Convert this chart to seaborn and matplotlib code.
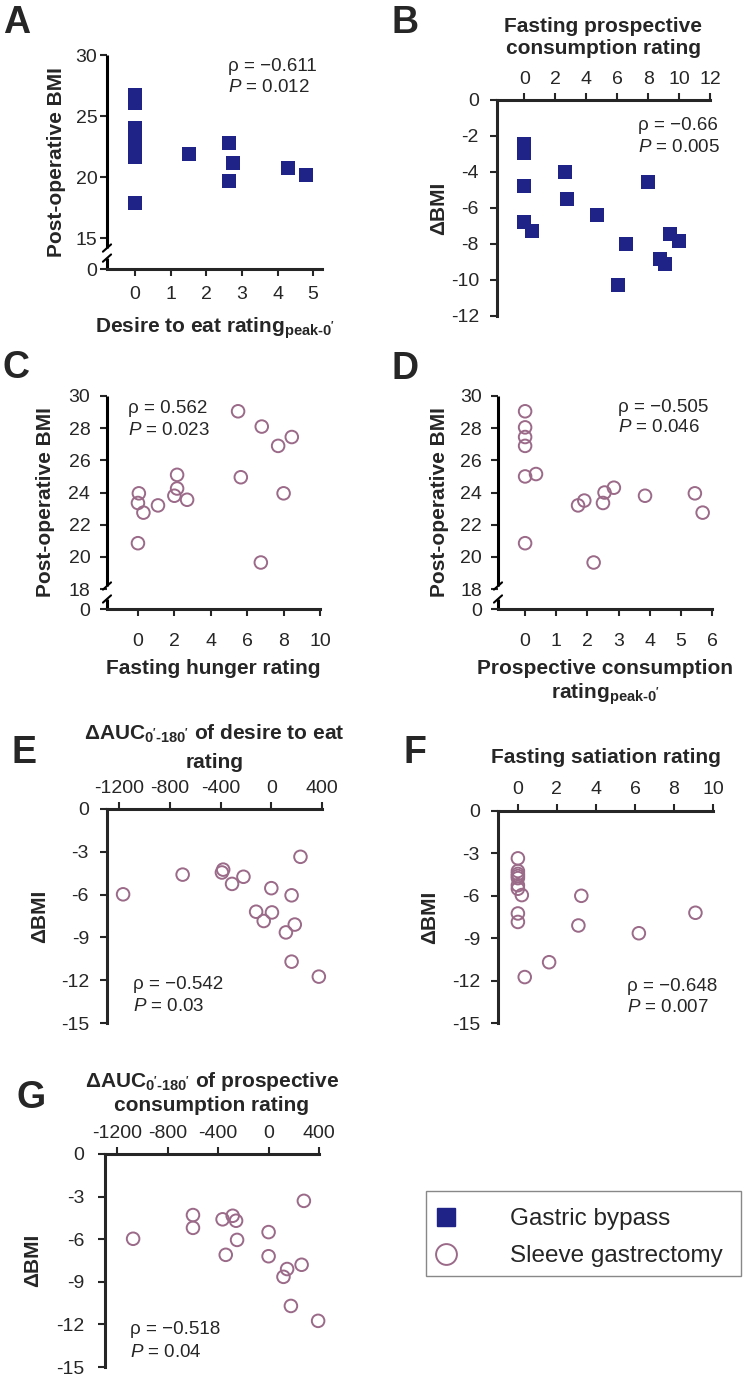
import numpy as np
import matplotlib
matplotlib.use("Agg")
import matplotlib.pyplot as plt
from matplotlib.lines import Line2D
from matplotlib.patches import Rectangle
import seaborn as sns

sns.set_style("ticks")
plt.rcParams['font.family'] = ['Liberation Sans', 'DejaVu Sans']
plt.rcParams['mathtext.fontset'] = 'custom'
plt.rcParams['mathtext.rm'] = 'Liberation Sans:bold'
plt.rcParams['mathtext.it'] = 'Liberation Sans:italic'
plt.rcParams['mathtext.bf'] = 'Liberation Sans:bold'
plt.rcParams['mathtext.default'] = 'bf'
plt.rcParams['axes.unicode_minus'] = False

navy = "#1f2388"
mauve = "#9a6a88"

# A: desire to eat (peak-0') vs post-op BMI, gastric bypass
a_x = [0, 0, 0, 0, 0, 0, 0, 0, 0, 1.5, 2.65, 2.75, 2.65, 4.3, 4.8]
a_y = [26.7, 26.05, 24.0, 23.5, 23.0, 22.6, 22.1, 21.65, 17.9, 21.9, 22.75, 21.15, 19.65, 20.7, 20.2]

# B: fasting prospective consumption vs delta BMI, gastric bypass
b_x = [0, 0, 0, 0, 0.5, 2.65, 2.75, 4.7, 6.55, 6.05, 8.0, 8.8, 9.1, 9.4, 10.0]
b_y = [-2.45, -2.95, -4.75, -6.75, -7.25, -4.0, -5.5, -6.4, -8.0, -10.3, -4.55, -8.85, -9.1, -7.45, -7.85]

# C: fasting hunger vs post-op BMI, sleeve
c_x = [0.05, 0.0, 0.3, 1.1, 0.0, 2.15, 2.15, 2.0, 2.7, 5.5, 5.65, 6.8, 6.75, 7.7, 8.45, 8.0]
c_y = [23.95, 23.35, 22.75, 23.2, 20.85, 25.1, 24.25, 23.8, 23.55, 29.05, 24.95, 28.1, 19.65, 26.9, 27.45, 23.95]

# D: prospective consumption (peak-0') vs post-op BMI, sleeve
d_x = [0, 0, 0, 0, 0, 0.35, 0, 1.7, 1.9, 2.2, 2.55, 2.5, 2.85, 3.85, 5.45, 5.7]
d_y = [29.05, 28.05, 27.45, 26.9, 25.0, 25.15, 20.85, 23.2, 23.5, 19.65, 24.0, 23.35, 24.3, 23.8, 23.95, 22.75]

# E: dAUC desire to eat vs delta BMI, sleeve
e_x = [-1170, -700, -380, -390, -310, -220, 0, -120, -60, 5, 160, 230, 115, 185, 160, 375]
e_y = [-5.98, -4.6, -4.25, -4.45, -5.25, -4.75, -5.55, -7.2, -7.85, -7.25, -6.05, -3.35, -8.65, -8.1, -10.7, -11.75]

# F: fasting satiation vs delta BMI, sleeve
f_x = [0, 0, 0, 0, 0, 0, 0, 0.2, 0, 0, 3.25, 3.1, 9.1, 6.2, 1.6, 0.35]
f_y = [-3.35, -4.25, -4.45, -4.6, -4.75, -5.25, -5.5, -5.95, -7.25, -7.85, -6.0, -8.1, -7.2, -8.65, -10.7, -11.75]

# G: dAUC prospective consumption vs delta BMI, sleeve
g_x = [-1075, -600, -600, -365, -285, -258, -250, -340, 0, 0, 280, 262, 118, 147, 177, 393]
g_y = [-5.97, -4.3, -5.2, -4.6, -4.35, -4.7, -6.05, -7.1, -5.5, -7.2, -3.3, -7.8, -8.65, -8.1, -10.7, -11.75]

W, H = 750, 1381
fig = plt.figure(figsize=(W / 100, H / 100), dpi=100)

def rect(x0, x1, y0, y1):
    return [x0 / W, 1 - y1 / H, (x1 - x0) / W, (y1 - y0) / H]

def scatter(ax, x, y, sleeve):
    if sleeve:
        sns.scatterplot(x=x, y=y, ax=ax, marker='o', s=82, facecolors='none',
                        edgecolor=mauve, linewidth=1.4, zorder=3, clip_on=False)
    else:
        sns.scatterplot(x=x, y=y, ax=ax, marker='s', s=95, color=navy,
                        edgecolor=navy, linewidth=0, zorder=3, clip_on=False)

def style(ax, top, xpad, ypad):
    ax.spines['right'].set_visible(False)
    if top:
        ax.spines['bottom'].set_visible(False)
        ax.xaxis.tick_top()
        ax.xaxis.set_label_position('top')
    else:
        ax.spines['top'].set_visible(False)
    for s in ax.spines.values():
        s.set_linewidth(2.2)
    ax.tick_params(axis='x', direction='out', length=5, width=1.5, labelsize=14, pad=xpad)
    ax.tick_params(axis='y', direction='out', length=5, width=1.5, labelsize=14, pad=ypad)

def broken_left(ax, hi, lo):
    ax.spines['left'].set_visible(False)
    kw = dict(transform=ax.transAxes, color='k', lw=2.2, clip_on=False, solid_capstyle='butt')
    ax.plot([0, 0], [hi, 1], **kw)
    ax.plot([0, 0], [0, lo], **kw)
    dx, dy = 0.019, 0.017
    for yy in (hi, lo):
        ax.plot([-dx, dx], [yy - dy, yy + dy], transform=ax.transAxes, color='k',
                lw=1.5, clip_on=False)

def stats(ax, x, y1, y2, rho, p):
    ax.text(x, y1, "\u03c1 = " + rho, transform=ax.transAxes, fontsize=13.5, va='center')
    ax.text(x, y2, r"$\mathit{P}$ = " + p, transform=ax.transAxes, fontsize=13.5, va='center')

lab = dict(fontsize=15, fontweight='bold')
sub_peak = r"$_{peak\text{-}0'}$"
sub_auc = r"$_{0'\text{-}180'}$"

# A
ax = fig.add_axes(rect(107, 322, 55, 269))
scatter(ax, a_x, a_y, False)
ax.set_xlim(-0.79, 5.25)
ax.set_ylim(12.46, 30)
ax.set_xticks(range(0, 6))
ax.set_yticks([12.46, 15, 20, 25, 30])
ax.set_yticklabels(['0', '15', '20', '25', '30'])
style(ax, False, 7, 2)
broken_left(ax, 0.098, 0.051)
ax.set_xlabel("Desire to eat rating" + sub_peak, labelpad=9, **lab)
ax.set_ylabel("Post-operative BMI", labelpad=7, **lab)
stats(ax, 0.563, 0.944, 0.846, "\u22120.611", "0.012")

# B
ax = fig.add_axes(rect(497, 710, 100, 316))
scatter(ax, b_x, b_y, False)
ax.set_xlim(-1.76, 12)
ax.set_ylim(-12, 0)
ax.set_xticks(range(0, 13, 2))
ax.set_yticks(range(-12, 1, 2))
style(ax, True, 4, 8)
ax.set_xlabel("Fasting prospective\nconsumption rating", labelpad=12, **lab)
ax.set_ylabel("\u0394BMI", labelpad=2, **lab)
stats(ax, 0.662, 0.884, 0.782, "\u22120.66", "0.005")

# C
ax = fig.add_axes(rect(107, 320, 396, 609))
scatter(ax, c_x, c_y, True)
ax.set_xlim(-1.7, 10)
ax.set_ylim(16.76, 30)
ax.set_xticks(range(0, 11, 2))
ax.set_yticks([16.76] + list(range(18, 31, 2)))
ax.set_yticklabels(['0'] + [str(v) for v in range(18, 31, 2)])
style(ax, False, 12, 7)
broken_left(ax, 0.108, 0.047)
ax.set_xlabel("Fasting hunger rating", labelpad=7, **lab)
ax.set_ylabel("Post-operative BMI", labelpad=10, **lab)
stats(ax, 0.099, 0.939, 0.836, "0.562", "0.023")

# D
ax = fig.add_axes(rect(498, 712, 396, 609))
scatter(ax, d_x, d_y, True)
ax.set_xlim(-0.87, 6)
ax.set_ylim(16.76, 30)
ax.set_xticks(range(0, 7))
ax.set_yticks([16.76] + list(range(18, 31, 2)))
ax.set_yticklabels(['0'] + [str(v) for v in range(18, 31, 2)])
style(ax, False, 12, 6.5)
broken_left(ax, 0.108, 0.047)
ax.set_xlabel("Prospective consumption\nrating" + sub_peak, labelpad=7, **lab)
ax.set_ylabel("Post-operative BMI", labelpad=8, **lab)
stats(ax, 0.561, 0.948, 0.85, "\u22120.505", "0.046")

# E
ax = fig.add_axes(rect(107, 322, 809, 1023))
scatter(ax, e_x, e_y, True)
ax.set_xlim(-1297, 400)
ax.set_ylim(-15, 0)
ax.set_xticks(range(-1200, 401, 400))
ax.set_yticks(range(-15, 1, 3))
style(ax, True, 3.5, 8)
ax.set_xlabel("\u0394AUC" + sub_auc + " of desire to eat\nrating", labelpad=9,
              linespacing=1.5, **lab)
ax.set_ylabel("\u0394BMI", labelpad=8, **lab)
stats(ax, 0.121, 0.178, 0.075, "\u22120.542", "0.03")

# F
ax = fig.add_axes(rect(498, 713, 811, 1023))
scatter(ax, f_x, f_y, True)
ax.set_xlim(-1.02, 10)
ax.set_ylim(-15, 0)
ax.set_xticks(range(0, 11, 2))
ax.set_yticks(range(-15, 1, 3))
style(ax, True, 4, 8)
ax.set_xlabel("Fasting satiation rating", labelpad=13, **lab)
ax.set_ylabel("\u0394BMI", labelpad=9, **lab)
stats(ax, 0.6, 0.17, 0.071, "\u22120.648", "0.007")

# G
ax = fig.add_axes(rect(105, 319, 1154, 1367))
scatter(ax, g_x, g_y, True)
ax.set_xlim(-1298, 400)
ax.set_ylim(-15, 0)
ax.set_xticks(range(-1200, 401, 400))
ax.set_yticks(range(-15, 1, 3))
style(ax, True, 4, 10)
ax.set_xlabel("\u0394AUC" + sub_auc + " of prospective\nconsumption rating", labelpad=9.5, **lab)
ax.set_ylabel("\u0394BMI", labelpad=10, **lab)
stats(ax, 0.117, 0.174, 0.07, "\u22120.518", "0.04")

# panel letters
letters = ['A', 'B', 'C', 'D', 'E', 'F', 'G']
letter_pos = [(3, 23), (392, 23), (3, 368), (392, 369), (12, 753), (403, 753), (17, 1098)]
for t, (px, py) in zip(letters, letter_pos):
    fig.text(px / W, 1 - py / H, t, fontsize=27, fontweight='bold', ha='left', va='center')

# legend box drawn separately so the padding can match
fig.patches.append(Rectangle((426 / W, 1 - 1276 / H), 315 / W, 85 / H, transform=fig.transFigure,
                             fill=False, edgecolor='#888888', linewidth=1))
handles = [Line2D([], [], marker='s', ls='none', color=navy, markersize=13.5),
           Line2D([], [], marker='o', ls='none', markerfacecolor='none',
                  markeredgecolor=mauve, markeredgewidth=1.4, markersize=15)]
leg = fig.legend(handles, ['Gastric bypass', 'Sleeve gastrectomy'], loc='upper left',
                 bbox_to_anchor=(431 / W, 1 - 1208 / H), borderaxespad=0, frameon=False,
                 fontsize=17.5, handlelength=1.2, handletextpad=2.05, borderpad=0,
                 labelspacing=0.63)

fig.savefig('out.png', dpi=100)
